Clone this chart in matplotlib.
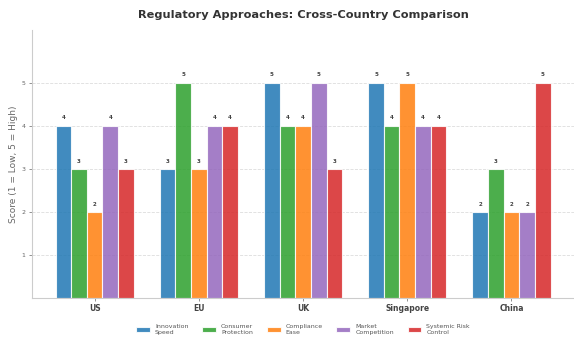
import matplotlib
matplotlib.use("Agg")
import matplotlib.pyplot as plt
import numpy as np

countries = ["US", "EU", "UK", "Singapore", "China"]
metrics = ["Innovation\nSpeed", "Consumer\nProtection", "Compliance\nEase",
           "Market\nCompetition", "Systemic Risk\nControl"]

innovation_speed = [4, 3, 5, 5, 2]
consumer_protection = [3, 5, 4, 4, 3]
compliance_ease = [2, 3, 4, 5, 2]
market_competition = [4, 4, 5, 4, 2]
systemic_risk = [3, 4, 3, 4, 5]

series = [innovation_speed, consumer_protection, compliance_ease,
          market_competition, systemic_risk]
colors = ["#1f77b4", "#2ca02c", "#ff7f0e", "#9467bd", "#d62728"]

fig = plt.figure(figsize=(5.74, 3.4), dpi=100)
ax = fig.add_axes([0.056, 0.123, 0.944, 0.789])

x = np.arange(len(countries))
width = 0.15
for i, vals in enumerate(series):
    pos = x + (i - 2) * width
    bars = ax.bar(pos, vals, width, color=colors[i], alpha=0.85,
                  edgecolor="white", linewidth=0.8, label=metrics[i])
    for b, v in zip(bars, vals):
        ax.text(b.get_x() + b.get_width() / 2, v + 0.12, str(v),
                ha="center", va="bottom", fontsize=4, fontweight="bold", color="#444444")

ax.set_xlim(-0.6, 4.6)
ax.set_ylim(0, 6.22)
ax.set_yticks([1, 2, 3, 4, 5])
ax.set_xticks(x)
ax.set_xticklabels(countries, fontsize=5.5, fontweight="bold", color="#444444")
ax.tick_params(axis="y", labelsize=4.5, colors="#666666", length=2, width=0.5, pad=3)
ax.tick_params(axis="x", length=2, width=0.5, colors="#666666", pad=2)
for lbl in ax.get_xticklabels():
    lbl.set_color("#444444")
ax.set_ylabel("Score (1 = Low, 5 = High)", fontsize=6.5, color="#666666", labelpad=2)
ax.set_title("Regulatory Approaches: Cross-Country Comparison",
             fontsize=8.2, fontweight="bold", color="#333333", pad=8.5)

ax.grid(axis="y", linestyle="--", color="#dddddd", linewidth=0.6)
ax.set_axisbelow(True)
for s in ["top", "right"]:
    ax.spines[s].set_visible(False)
for s in ["left", "bottom"]:
    ax.spines[s].set_color("#cccccc")
    ax.spines[s].set_linewidth(0.8)

ax.legend(loc="upper center", bbox_to_anchor=(0.5, -0.075), ncol=5, frameon=False,
          fontsize=4.5, handlelength=2.2, handleheight=0.8, columnspacing=2.2,
          labelcolor="#555555")

fig.savefig("out.png", dpi=100)
